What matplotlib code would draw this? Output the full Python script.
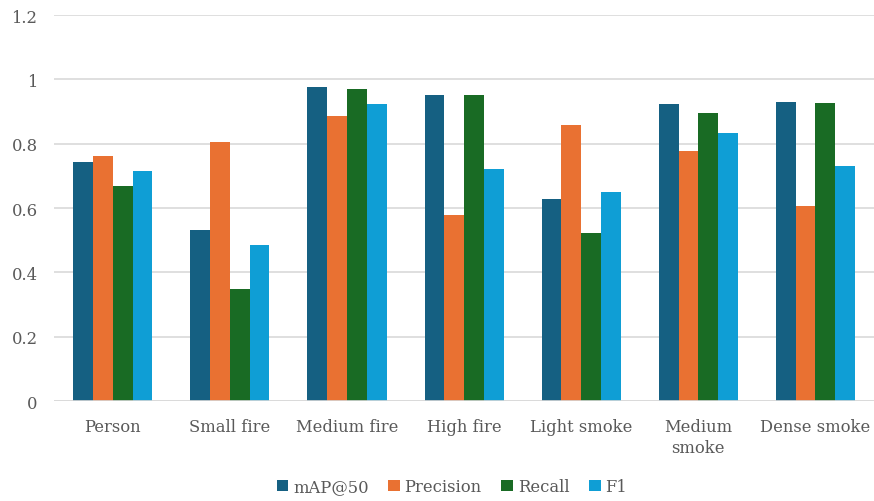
import matplotlib.pyplot as plt
import numpy as np

categories = ["Person", "Small fire", "Medium fire", "High fire",
              "Light smoke", "Medium\nsmoke", "Dense smoke"]
series_names = ["mAP@50", "Precision", "Recall", "F1"]
map50 = [0.742, 0.531, 0.977, 0.953, 0.629, 0.922, 0.930]
precision = [0.762, 0.805, 0.886, 0.580, 0.857, 0.776, 0.605]
recall = [0.669, 0.347, 0.969, 0.950, 0.521, 0.897, 0.928]
f1 = [0.714, 0.486, 0.925, 0.720, 0.649, 0.832, 0.731]
colors = ["#156082", "#E97132", "#196B24", "#0F9ED5"]

plt.rcParams['font.family'] = ['DejaVu Serif']

fig = plt.figure(figsize=(8.74, 5.02), dpi=100)
ax = fig.add_axes([0.062, 0.199, 0.938, 0.769])

x = np.arange(len(categories))
w = 0.169
for i, (vals, name) in enumerate(zip([map50, precision, recall, f1], series_names)):
    ax.bar(x + (i - 1.5) * w, vals, w, color=colors[i], label=name, zorder=3)

ax.set_xlim(-0.5, len(categories) - 0.5)
ax.set_ylim(0, 1.2)
ax.set_yticks([0, 0.2, 0.4, 0.6, 0.8, 1.0, 1.2])
ax.set_yticklabels(["0", "0.2", "0.4", "0.6", "0.8", "1", "1.2"])
ax.set_xticks(x)
ax.set_xticklabels(categories, va="top", linespacing=1.3)
ax.yaxis.grid(True, color="#d9d9d9", linewidth=1.2, zorder=0)
for s in ax.spines.values():
    s.set_visible(False)
ax.axhline(0, color="#d9d9d9", linewidth=1.2, zorder=4)
ax.tick_params(axis="both", length=0, labelsize=11.8, colors="#595959")
ax.tick_params(axis="x", pad=12)
ax.tick_params(axis="y", pad=12)

fig.legend(loc="center", bbox_to_anchor=(0.517, 0.028), ncol=4, frameon=False,
           fontsize=11.8, handlelength=0.7, handleheight=0.7, handletextpad=0.3,
           columnspacing=1.2, labelcolor="#595959")

fig.savefig("out.png", dpi=100)
